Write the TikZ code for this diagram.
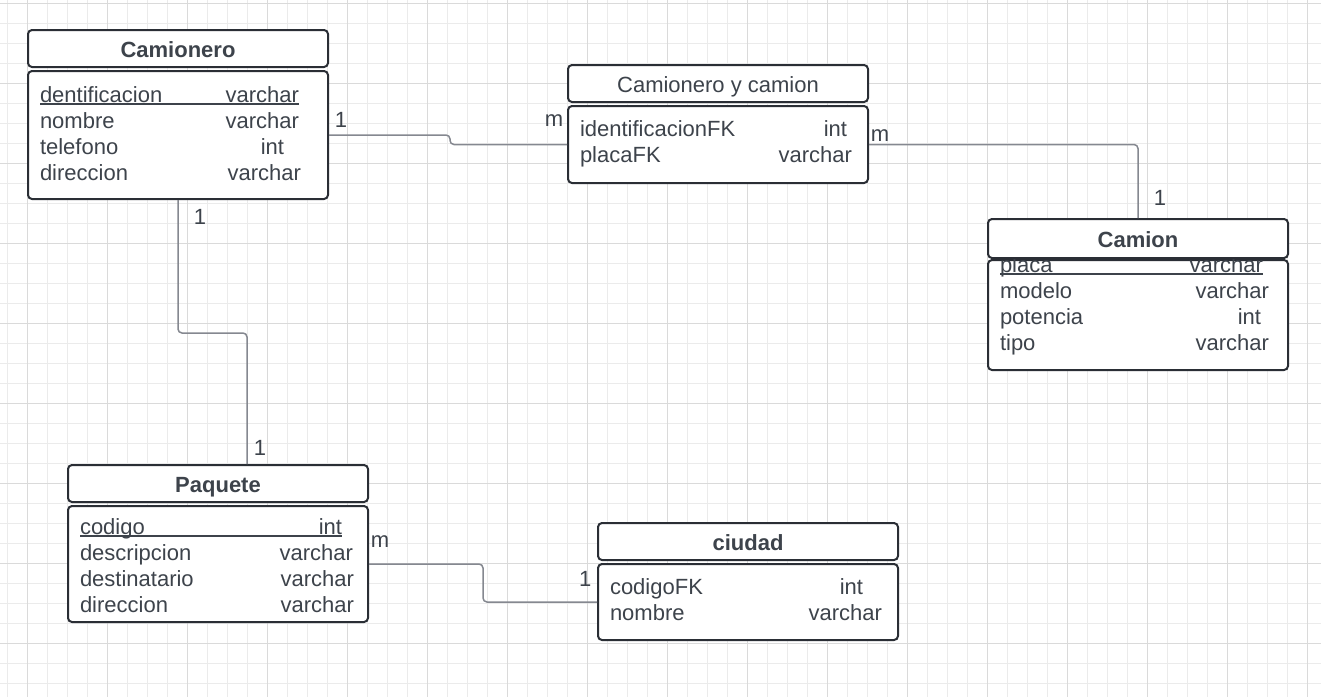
\documentclass[tikz,border=0pt]{standalone}
\usepackage{fontspec}
\setmainfont{Liberation Sans}
\usetikzlibrary{positioning}

\definecolor{gridminor}{HTML}{EBEBEB}
\definecolor{gridmajor}{HTML}{DADADA}
\definecolor{boxline}{HTML}{2A2E35}
\definecolor{txt}{HTML}{3D434B}
\definecolor{relline}{HTML}{858890}

% one row of a table: name left, type right
\newlength{\rowwd}
\newcommand{\fld}[3][0pt]{\makebox[\rowwd][l]{\makebox[\dimexpr\rowwd-#1\relax]{#2\hfill #3}}\strut}
\newcommand{\keyfld}[3][0pt]{\makebox[\rowwd][l]{\rlap{\rule[-1.4pt]{\dimexpr\rowwd-#1\relax}{0.7pt}}\makebox[\dimexpr\rowwd-#1\relax]{#2\hfill #3}}\strut}

\tikzset{
  entity/.style = {
    rectangle,
    draw=boxline,
    line width=1pt,
    rounded corners=2pt,
    fill=white,
    text=txt,
    font=\fontsize{11}{13}\selectfont\bfseries,
    minimum width=150pt,
    minimum height=18.5pt,
    text height=10pt,
    text depth=1.3pt,
    inner sep=0pt
  },
  attrs/.style = {
    rectangle,
    draw=boxline,
    line width=1pt,
    rounded corners=2pt,
    fill=white,
    text=txt,
    font=\fontsize{11}{13}\selectfont,
    text width=138pt,
    inner xsep=6pt,
    inner ysep=0pt,
    align=left,
    execute at begin node={\setlength{\rowwd}{#1}}
  },
  rel/.style = {
    draw=relline,
    line width=0.75pt,
    rounded corners=2pt
  },
  card/.style = {
    text=txt,
    font=\fontsize{11}{13}\selectfont,
    inner sep=0pt
  }
}

\begin{document}
\begin{tikzpicture}[x=0.5pt, y=-0.5pt]

\useasboundingbox (0,0) rectangle (1321,697);
\fill[white] (0,0) rectangle (1321,697);

% Raster
\foreach \gx in {7,27,...,1321} \draw[gridminor, line width=0.5pt] (\gx,0) -- (\gx,697);
\foreach \gy in {3,23,...,697} \draw[gridminor, line width=0.5pt] (0,\gy) -- (1321,\gy);
\foreach \gx in {27,107,...,1321} \draw[gridmajor, line width=0.5pt] (\gx,0) -- (\gx,697);
\foreach \gy in {3,83,...,697} \draw[gridmajor, line width=0.5pt] (0,\gy) -- (1321,\gy);

% Camionero
\node[entity, anchor=north west] (cmn) at (27,29) {Camionero};
\node[attrs=130.5pt, below=1pt of cmn, text height=15.5pt, text depth=48.5pt] (cmnbody) {
  \keyfld[1pt]{dentificacion}{varchar}\\
  \fld[1pt]{nombre}{varchar}\\
  \fld[8.5pt]{telefono}{int}\\
  \fld{direccion}{varchar}
};

% Camionero y camion
\node[entity, anchor=north west, font=\fontsize{11}{13}\selectfont] (cyc) at (567,64) {Camionero y camion};
\node[attrs=136pt, below=1pt of cyc, text height=15pt, text depth=23.5pt] (cycbody) {
  \fld[2.5pt]{identificacionFK}{int}\\
  \fld{placaFK}{varchar}
};

% Camion
\node[attrs=134.5pt, anchor=north west, text height=6pt, text depth=49pt] (cambody) at (987,259) {
  \keyfld[3pt]{placa}{varchar}\\
  \fld{modelo}{varchar}\\
  \fld[4pt]{potencia}{int}\\
  \fld{tipo}{varchar}
};
\node[entity, minimum height=19.5pt, above=0pt of cambody] (cam) {Camion};

% Paquete
\node[entity, anchor=north west] (pqt) at (67,464) {Paquete};
\node[attrs=137pt, below=1pt of pqt, text height=14pt, text depth=44pt] (pqtbody) {
  \keyfld[6pt]{codigo}{int}\\
  \fld[0.5pt]{descripcion}{varchar}\\
  \fld{destinatario}{varchar}\\
  \fld{direccion}{varchar}
};

% ciudad
\node[entity, anchor=north west] (ciu) at (597,522) {ciudad};
\node[attrs=136pt, below=1pt of ciu, text height=15pt, text depth=23pt] (ciubody) {
  \fld[9.5pt]{codigoFK}{int}\\
  \fld{nombre}{varchar}
};

% Beziehungen
\draw[rel] (cmnbody.east) node[card, above right=3.5pt and 2.5pt] {1}
  -- ++(121,0) |- (cycbody.west) node[card, above left=8.75pt and 1.5pt] {m};
\draw[rel] (cycbody.east) node[card, above right=1.25pt and 0.5pt] {m}
  -| (cam.north) node[card, above right=6pt and 7.5pt] {1};
\draw[rel] (cmnbody.south) node[card, below right=4.5pt and 7.5pt] {1}
  -- ++(0,133) -| ([xshift=14.5pt]pqt.north) node[card, above right=4pt and 3pt] {1};
\draw[rel] (pqtbody.east) node[card, above right=8pt and 0.5pt] {m}
  -- ++(114,0) |- (ciubody.west) node[card, above left=7.5pt and 2.5pt] {1};

\end{tikzpicture}
\end{document}
